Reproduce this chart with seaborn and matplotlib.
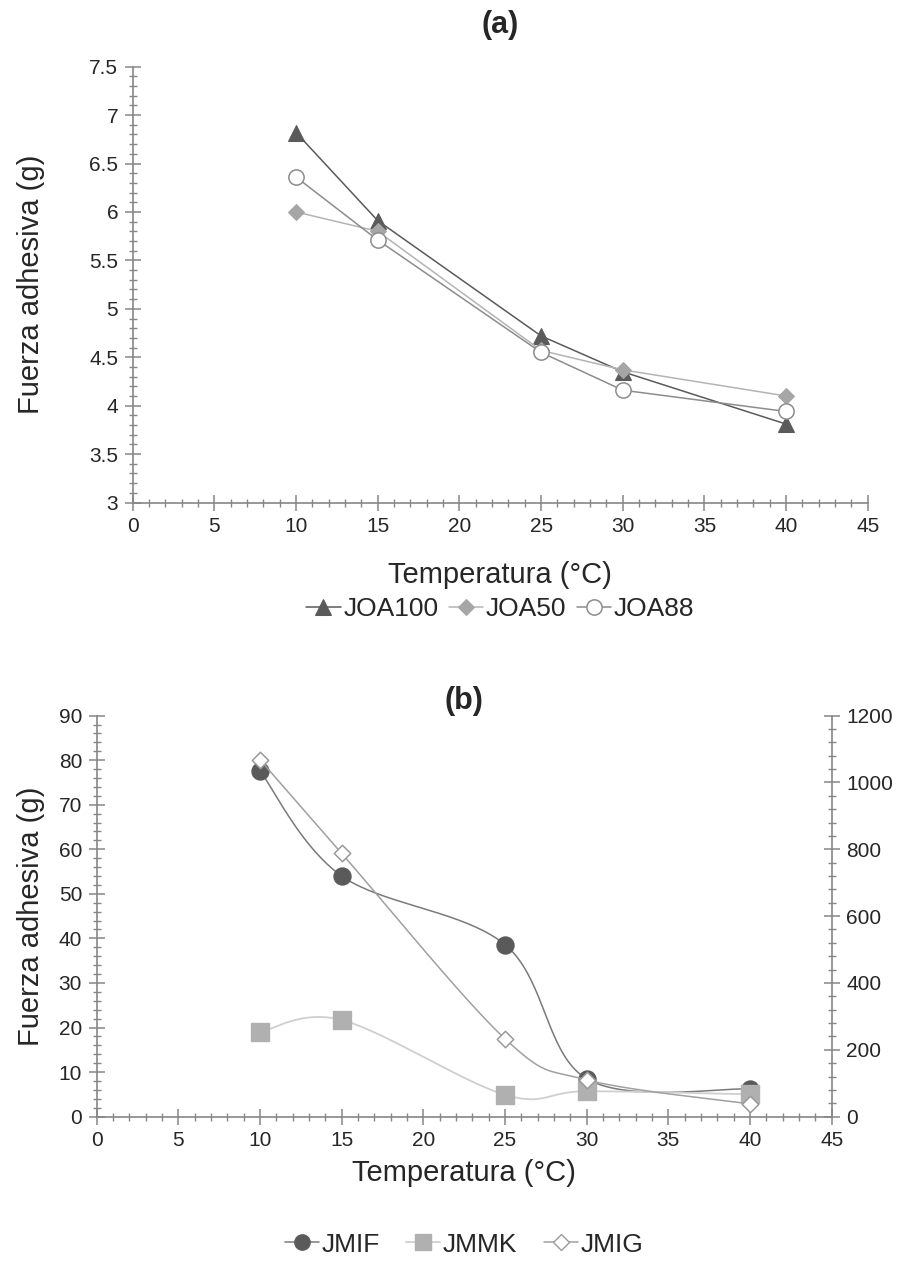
import numpy as np
import pandas as pd
import matplotlib.pyplot as plt
import seaborn as sns
from matplotlib.lines import Line2D
from matplotlib.ticker import MultipleLocator

# Datos (a)
temp = [10, 15, 25, 30, 40]
joa100 = [6.82, 5.91, 4.72, 4.35, 3.81]
joa50 = [6.00, 5.80, 4.57, 4.37, 4.10]
joa88 = [6.36, 5.71, 4.55, 4.16, 3.94]

# Datos (b)
jmif = [77.6, 54.0, 38.6, 8.5, 6.2]     # eje izquierdo
jmmk = [19.0, 21.7, 4.9, 5.7, 5.0]      # eje izquierdo
jmig = [1068, 788, 233, 110, 38]        # eje derecho

sns.set_style("white")
plt.rcParams['font.family'] = ['Liberation Sans', 'DejaVu Sans']

AXC = '#868686'
TICK_FS = 15
LAB_FS = 21


def smooth(xs, ys, n=40):
    # curva suavizada tipo Excel (Catmull-Rom)
    p = np.column_stack([xs, ys]).astype(float)
    p = np.vstack([p[0], p, p[-1]])
    t = np.linspace(0, 1, n)[:, None]
    segs = []
    for i in range(1, len(p) - 2):
        p0, p1, p2, p3 = p[i - 1], p[i], p[i + 1], p[i + 2]
        segs.append(0.5 * (2 * p1 + (-p0 + p2) * t + (2 * p0 - 5 * p1 + 4 * p2 - p3) * t ** 2
                           + (-p0 + 3 * p1 - 3 * p2 + p3) * t ** 3))
    c = np.vstack(segs)
    return pd.DataFrame({'x': c[:, 0], 'y': c[:, 1]})


def style_axis(ax):
    for s in ['top', 'right']:
        ax.spines[s].set_visible(False)
    for s in ['left', 'bottom']:
        ax.spines[s].set_color(AXC)
        ax.spines[s].set_linewidth(1.2)
    ax.tick_params(which='both', bottom=True, left=True)
    ax.tick_params(which='major', direction='inout', length=11, width=1.1, color=AXC,
                   labelsize=TICK_FS, pad=5)
    ax.tick_params(which='minor', direction='inout', length=6, width=1.0, color=AXC)
    ax.xaxis.set_major_locator(MultipleLocator(5))
    ax.xaxis.set_minor_locator(MultipleLocator(1))


fig = plt.figure(figsize=(9.03, 12.82), dpi=100)

# ---------------- (a) ----------------
ax1 = fig.add_axes([0.147, 0.608, 0.814, 0.340])
sns.lineplot(x=temp, y=joa100, ax=ax1, color='#5a5a5a', marker='^', markersize=11,
             markeredgecolor='#5a5a5a', linewidth=1.1, label='JOA100')
sns.lineplot(x=temp, y=joa50, ax=ax1, color='#b4b4b4', marker='D', markersize=8,
             markeredgecolor='#a6a6a6', markerfacecolor='#a6a6a6', linewidth=1.1, label='JOA50')
sns.lineplot(x=temp, y=joa88, ax=ax1, color='#8c8c8c', marker='o', markersize=11,
             markerfacecolor='white', markeredgecolor='#8c8c8c', markeredgewidth=1.1,
             linewidth=1.1, label='JOA88')
ax1.set_xlim(0, 45)
ax1.set_ylim(3, 7.5)
style_axis(ax1)
ax1.yaxis.set_major_locator(MultipleLocator(0.5))
ax1.yaxis.set_minor_locator(MultipleLocator(0.1))
ax1.yaxis.set_major_formatter(plt.FuncFormatter(lambda v, p: f'{v:g}'))
ax1.set_title('(a)', fontsize=22, fontweight='bold', pad=24)
ax1.set_xlabel('Temperatura (°C)', fontsize=LAB_FS, labelpad=18)
ax1.set_ylabel('Fuerza adhesiva (g)', fontsize=LAB_FS, labelpad=32)
ax1.legend(loc='upper center', bbox_to_anchor=(0.5, -0.163), ncol=3, frameon=False,
           fontsize=19, handlelength=1.3, handletextpad=0.1, columnspacing=0.4)

# ---------------- (b) ----------------
ax2 = fig.add_axes([0.107, 0.129, 0.814, 0.3128])
ax3 = ax2.twinx()

c_jmif, c_jmig = '#5a5a5a', '#9a9a9a'
sns.lineplot(data=smooth(temp, jmif), x='x', y='y', ax=ax2, color='#7a7a7a',
             linewidth=1.1, sort=False, estimator=None)
sns.lineplot(data=smooth(temp, jmmk), x='x', y='y', ax=ax2, color='#cfcfcf',
             linewidth=1.3, sort=False, estimator=None)
sns.lineplot(data=smooth(temp, jmig), x='x', y='y', ax=ax3, color='#a0a0a0',
             linewidth=1.1, sort=False, estimator=None)
sns.scatterplot(x=temp, y=jmif, ax=ax2, color=c_jmif, marker='o', s=150, edgecolor=c_jmif, zorder=5)
sns.scatterplot(x=temp, y=jmmk, ax=ax2, color='#b0b0b0', marker='s', s=150, edgecolor='#b0b0b0', zorder=5)
sns.scatterplot(x=temp, y=jmig, ax=ax3, color='white', marker='D', s=70, edgecolor=c_jmig,
                linewidth=1.1, zorder=5)

ax2.set_xlim(0, 45)
ax2.set_ylim(0, 90)
ax3.set_ylim(0, 1200)
style_axis(ax2)
ax2.yaxis.set_major_locator(MultipleLocator(10))
ax2.yaxis.set_minor_locator(MultipleLocator(2))
ax3.spines['top'].set_visible(False)
ax3.spines['left'].set_visible(False)
ax3.spines['bottom'].set_visible(False)
ax3.spines['right'].set_color(AXC)
ax3.spines['right'].set_linewidth(1.2)
ax3.yaxis.set_major_locator(MultipleLocator(200))
ax3.yaxis.set_minor_locator(MultipleLocator(40))
ax3.tick_params(which='both', right=True)
ax3.tick_params(which='major', direction='inout', length=11, width=1.1, color=AXC,
                labelsize=TICK_FS, pad=5)
ax3.tick_params(which='minor', direction='inout', length=6, width=1.0, color=AXC)
ax3.set_ylabel('')
ax2.set_title('(b)', fontsize=22, fontweight='bold', pad=-4)
ax2.set_xlabel('Temperatura (°C)', fontsize=LAB_FS, labelpad=6)
ax2.set_ylabel('Fuerza adhesiva (g)', fontsize=LAB_FS, labelpad=10)

handles = [
    Line2D([], [], color='#7a7a7a', marker='o', markersize=11, markerfacecolor=c_jmif,
           markeredgecolor=c_jmif, linewidth=1.1),
    Line2D([], [], color='#cfcfcf', marker='s', markersize=11, markerfacecolor='#b0b0b0',
           markeredgecolor='#b0b0b0', linewidth=1.3),
    Line2D([], [], color='#a0a0a0', marker='D', markersize=8, markerfacecolor='white',
           markeredgecolor=c_jmig, linewidth=1.1),
]
ax2.legend(handles, ['JMIF', 'JMMK', 'JMIG'], loc='upper center', bbox_to_anchor=(0.5, -0.23),
           ncol=3, frameon=False, fontsize=19, handlelength=1.3, handletextpad=0.1,
           columnspacing=1.0)

fig.savefig('out.png', dpi=100)
